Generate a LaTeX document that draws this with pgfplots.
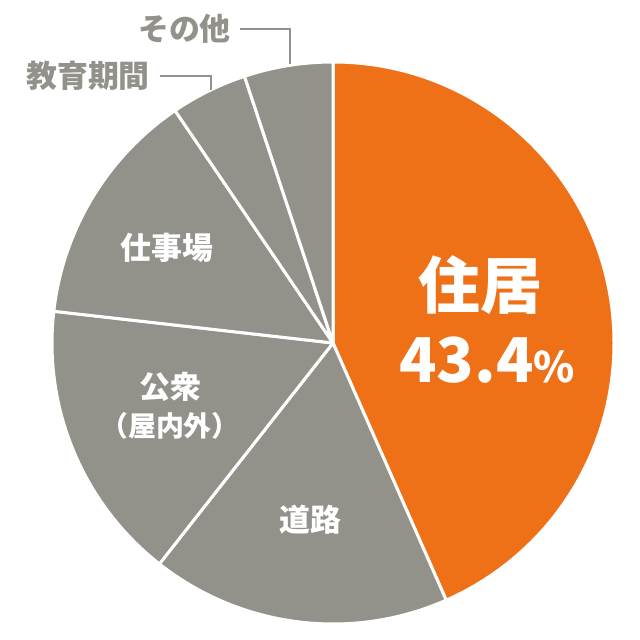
\documentclass[border=0pt]{standalone}
\usepackage{pgfplots}
\pgfplotsset{compat=1.18}
\usepackage{fontspec}
\setmainfont{Noto Sans CJK JP}
\definecolor{pieorange}{HTML}{EF7117}
\definecolor{piegrey}{HTML}{92918A}
% shares (%), clockwise from 12 o'clock
\def\pA{43.4}% 住居
\def\pB{17.2}% 道路
\def\pC{16.2}% 公衆（屋内外）
\def\pD{13.7}% 仕事場
\def\pE{4.4}%  教育期間
\def\pF{5.1}%  その他
\pgfmathsetmacro{\aA}{90}
\pgfmathsetmacro{\aB}{\aA-3.6*\pA}
\pgfmathsetmacro{\aC}{\aB-3.6*\pB}
\pgfmathsetmacro{\aD}{\aC-3.6*\pC}
\pgfmathsetmacro{\aE}{\aD-3.6*\pD}
\pgfmathsetmacro{\aF}{\aE-3.6*\pE}
\pgfmathsetmacro{\aG}{\aF-3.6*\pF}
\begin{document}
\begin{tikzpicture}
\begin{axis}[
  scale only axis, width=640bp, height=640bp,
  xmin=0, xmax=640, ymin=0, ymax=640,
  hide axis, clip=false, anchor=south west, at={(0,0)},
]
\def\wedge#1#2#3{\fill[#1, draw=white, line width=3bp, line join=round]
  (axis cs:333,297) -- ++(#2:281bp) arc[start angle=#2, end angle=#3, radius=281bp] -- cycle;}
\wedge{pieorange}{\aA}{\aB}
\wedge{piegrey}{\aB}{\aC}
\wedge{piegrey}{\aC}{\aD}
\wedge{piegrey}{\aD}{\aE}
\wedge{piegrey}{\aE}{\aF}
\wedge{piegrey}{\aF}{\aG}
% labels
\node[text=white, font=\bfseries\fontsize{62}{62}\selectfont] at (axis cs:480,355) {住居};
\node[text=white, font=\bfseries\fontsize{62}{62}\selectfont, inner sep=0pt] at (axis cs:487,280) {43.4{\fontsize{42}{42}\selectfont\%}};
\node[text=white, font=\bfseries\fontsize{31}{31}\selectfont] at (axis cs:167,392) {仕事場};
\node[text=white, font=\bfseries\fontsize{31}{31}\selectfont] at (axis cs:170,253) {公衆};
\node[text=white, font=\bfseries\fontsize{28}{28}\selectfont] at (axis cs:170,214) {（屋内外）};
\node[text=white, font=\bfseries\fontsize{31}{31}\selectfont] at (axis cs:310,120) {道路};
\node[text=piegrey, font=\bfseries\fontsize{31}{31}\selectfont, anchor=east, inner sep=0pt] at (axis cs:231,611) {その他};
\node[text=piegrey, font=\bfseries\fontsize{31}{31}\selectfont, anchor=east, inner sep=0pt] at (axis cs:150,564) {教育期間};
\draw[piegrey, line width=2bp] (axis cs:240,611) -- (axis cs:290,611) -- (axis cs:290,576);
\draw[piegrey, line width=2bp] (axis cs:160,564) -- (axis cs:211,564) -- (axis cs:211,550);
\end{axis}
\pgfresetboundingbox
\path (0,0) rectangle (640bp,640bp);
\end{tikzpicture}
\end{document}
